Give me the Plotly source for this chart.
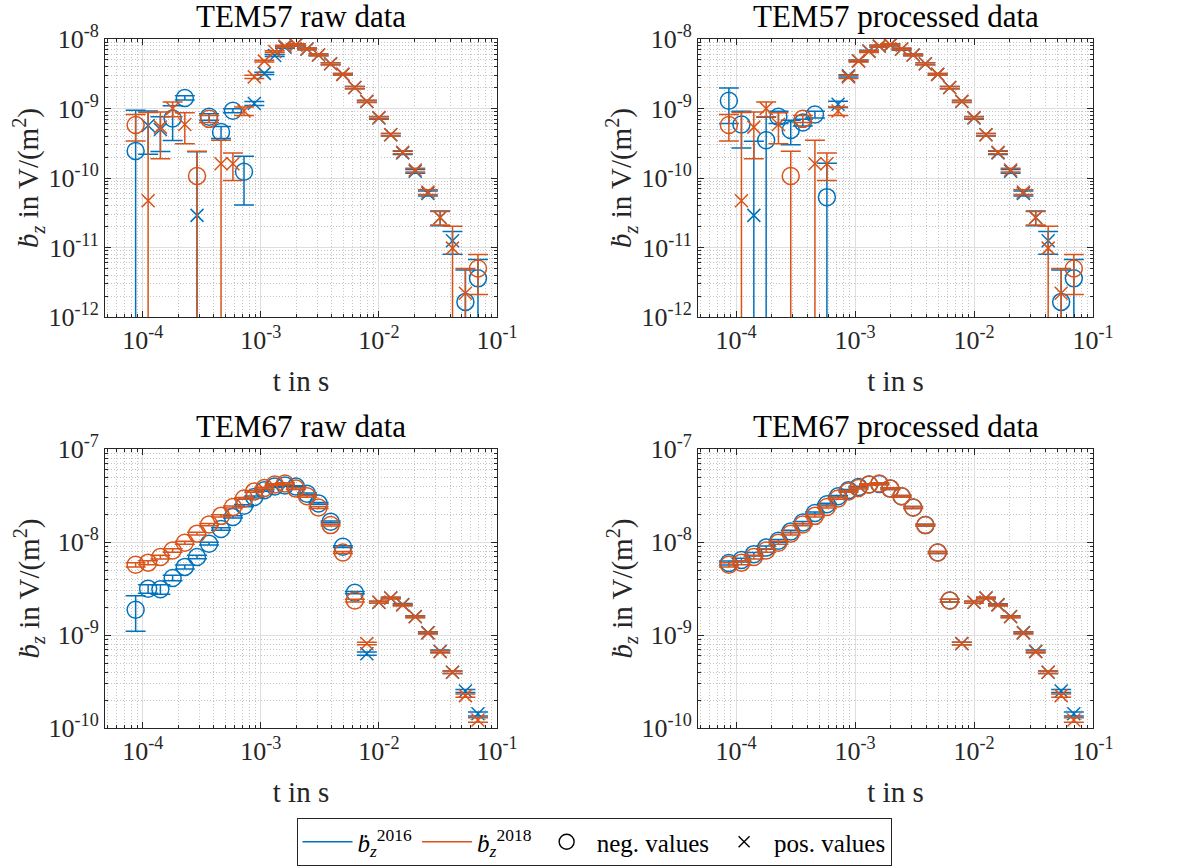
import numpy as np
import plotly.graph_objects as go

# gate centre times in s (shared by all soundings)
t_gate = [8.7e-5, 1.11e-4, 1.41e-4, 1.79e-4, 2.27e-4, 2.88e-4, 3.64e-4, 4.6e-4,
          5.8e-4, 7.2e-4, 8.8e-4, 1.07e-3, 1.31e-3, 1.6e-3, 1.98e-3, 2.46e-3,
          3.08e-3, 3.9e-3, 4.95e-3, 6.25e-3, 7.9e-3, 1.0e-2, 1.26e-2, 1.59e-2,
          2.03e-2, 2.6e-2, 3.3e-2, 4.2e-2, 5.4e-2, 6.9e-2]

# signed dB/dt in V/m^2 (negative entries are drawn as "neg. values")
tem57_2016_raw = [-2.45e-10, 5.7e-10, 5.0e-10, -7.2e-10, -1.42e-9, 2.9e-11, -7.6e-10, -4.6e-10,
                  -9.3e-10, -1.23e-10, 1.18e-9, 3.2e-9, 5.8e-9, 7.6e-9, 8.2e-9, 7.2e-9,
                  5.9e-9, 4.4e-9, 3.1e-9, 2.0e-9, 1.26e-9, 7.3e-10, 4.2e-10, 2.3e-10,
                  1.25e-10, 6.0e-11, 2.7e-11, 1.25e-11, -1.65e-12, -3.6e-12]
tem57_2016_raw_err = [7.0e-10, 3.5e-10, 2.6e-10, 3.75e-10, 1.0e-10, 2.1e-10, 8e-11, 9e-11,
                      6e-11, 8.2e-11, 8e-11, 1.2e-10, 1.8e-10, 2.2e-10, 2.4e-10, 2.2e-10,
                      1.8e-10, 1.4e-10, 1.0e-10, 7e-11, 4.5e-11, 2.8e-11, 1.8e-11, 1.2e-11,
                      8e-12, 5e-12, 6.5e-12, 4.5e-12, 3.1e-12, 3.1e-12]

tem57_2016_proc = [-1.29e-9, -5.9e-10, 2.9e-11, -3.5e-10, -7.6e-10, -4.9e-10, -6.3e-10, -8.2e-10,
                   -5.3e-11, 1.15e-9, 2.95e-9, 4.85e-9, 6.7e-9, 7.9e-9, 8.2e-9, 7.1e-9,
                   5.9e-9, 4.4e-9, 3.1e-9, 2.0e-9, 1.26e-9, 7.3e-10, 4.2e-10, 2.3e-10,
                   1.25e-10, 6.0e-11, 2.7e-11, 1.25e-11, -1.65e-12, -3.6e-12]
tem57_2016_proc_err = [6.8e-10, 3.2e-10, 3.1e-10, 4.0e-10, 1.5e-10, 1.9e-10, 7e-11, 9e-11,
                       1.1e-10, 1.2e-10, 1.0e-10, 1.2e-10, 1.8e-10, 2.2e-10, 2.4e-10, 2.2e-10,
                       1.8e-10, 1.4e-10, 1.0e-10, 7e-11, 4.5e-11, 2.8e-11, 1.8e-11, 1.2e-11,
                       8e-12, 5e-12, 6.5e-12, 4.5e-12, 3.1e-12, 3.1e-12]

tem57_2018 = [-5.8e-10, 4.7e-11, 5.4e-10, 1.0e-9, 5.9e-10, -1.07e-10, -7.1e-10, 1.6e-10,
              1.6e-10, 9.2e-10, 2.85e-9, 4.8e-9, 6.6e-9, 7.9e-9, 8.3e-9, 7.2e-9,
              5.9e-9, 4.4e-9, 3.1e-9, 2.0e-9, 1.27e-9, 7.4e-10, 4.2e-10, 2.35e-10,
              1.3e-10, 6.3e-11, 2.7e-11, 9.8e-12, 2.2e-12, -5.0e-12]
tem57_2018_err = [2.4e-10, 8.3e-10, 3.5e-10, 2.4e-10, 2.8e-10, 1.35e-10, 8e-11, 1.9e-10,
                  6.8e-11, 1.3e-10, 1.5e-10, 1.5e-10, 2.0e-10, 2.2e-10, 2.4e-10, 2.2e-10,
                  1.8e-10, 1.4e-10, 1.0e-10, 7e-11, 4.5e-11, 2.8e-11, 1.7e-11, 1.1e-11,
                  8e-12, 5e-12, 6e-12, 1.05e-11, 2.8e-12, 2.9e-12]

tem67_2016_raw = [-1.87e-9, -3.15e-9, -3.1e-9, -4.1e-9, -5.4e-9, -6.9e-9, -9.6e-9, -1.38e-8,
                  -1.86e-8, -2.45e-8, -3.05e-8, -3.6e-8, -3.95e-8, -4.05e-8, -3.95e-8, -3.3e-8,
                  -2.6e-8, -1.65e-8, -8.9e-9, -2.85e-9, 6.3e-10, 2.25e-9, 2.5e-9, 2.13e-9,
                  1.58e-9, 1.06e-9, 6.7e-10, 3.97e-10, 2.5e-10, 1.42e-10]
tem67_2016_raw_err = [7.7e-10, 3.3e-10, 3.6e-10, 2.8e-10, 2.6e-10, 3.0e-10, 3.2e-10, 4.0e-10,
                      5.0e-10, 6.0e-10, 7.0e-10, 8.0e-10, 8.5e-10, 8.5e-10, 8.0e-10, 7.0e-10,
                      5.5e-10, 3.5e-10, 2.0e-10, 8e-11, 2.5e-11, 5e-11, 5e-11, 4.5e-11,
                      3.5e-11, 2.5e-11, 1.8e-11, 1.2e-11, 9e-12, 7e-12]

tem67_2016_proc = [-5.95e-9, -6.4e-9, -7.4e-9, -8.7e-9, -1.03e-8, -1.3e-8, -1.62e-8, -2.05e-8,
                   -2.55e-8, -3.1e-8, -3.6e-8, -3.9e-8, -4.15e-8, -4.2e-8, -3.75e-8, -3.1e-8,
                   -2.35e-8, -1.52e-8, -7.7e-9, -2.35e-9, 8.1e-10, 2.25e-9, 2.5e-9, 2.12e-9,
                   1.58e-9, 1.06e-9, 6.7e-10, 3.97e-10, 2.5e-10, 1.42e-10]
tem67_2016_proc_err = [3.0e-10, 3.0e-10, 3.2e-10, 3.4e-10, 3.6e-10, 4.0e-10, 4.5e-10, 5.0e-10,
                       5.5e-10, 6.5e-10, 7.5e-10, 8.0e-10, 8.5e-10, 8.5e-10, 8.0e-10, 7.0e-10,
                       5.5e-10, 3.5e-10, 2.0e-10, 8e-11, 2.5e-11, 5e-11, 5e-11, 4.5e-11,
                       3.5e-11, 2.5e-11, 1.8e-11, 1.2e-11, 9e-12, 7e-12]

tem67_2018 = [-5.7e-9, -6.0e-9, -6.9e-9, -8.1e-9, -9.8e-9, -1.23e-8, -1.54e-8, -1.91e-8,
              -2.38e-8, -2.94e-8, -3.5e-8, -3.8e-8, -4.15e-8, -4.25e-8, -3.75e-8, -3.1e-8,
              -2.35e-8, -1.52e-8, -7.7e-9, -2.35e-9, 8.1e-10, 2.25e-9, 2.5e-9, 2.1e-9,
              1.57e-9, 1.05e-9, 6.6e-10, 3.97e-10, 2.23e-10, 1.22e-10]
tem67_2018_err = [3.0e-10, 3.0e-10, 3.2e-10, 3.4e-10, 3.6e-10, 4.0e-10, 4.5e-10, 5.0e-10,
                  5.5e-10, 6.5e-10, 7.5e-10, 8.0e-10, 8.5e-10, 8.5e-10, 8.0e-10, 7.0e-10,
                  5.5e-10, 3.5e-10, 2.0e-10, 8e-11, 2.5e-11, 5e-11, 5e-11, 4.5e-11,
                  3.5e-11, 2.5e-11, 1.8e-11, 1.2e-11, 9e-12, 7e-12]

panel_titles = ["TEM57 raw data", "TEM57 processed data", "TEM67 raw data", "TEM67 processed data"]
x_ticks = [1e-4, 1e-3, 1e-2, 1e-1]
x_ticktext = ["10<sup>-4</sup>", "10<sup>-3</sup>", "10<sup>-2</sup>", "10<sup>-1</sup>"]
y_ticks_57 = [1e-12, 1e-11, 1e-10, 1e-9, 1e-8]
y_ticktext_57 = ["10<sup>-12</sup>", "10<sup>-11</sup>", "10<sup>-10</sup>", "10<sup>-9</sup>", "10<sup>-8</sup>"]
y_ticks_67 = [1e-10, 1e-9, 1e-8, 1e-7]
y_ticktext_67 = ["10<sup>-10</sup>", "10<sup>-9</sup>", "10<sup>-8</sup>", "10<sup>-7</sup>"]

BLUE = "#0072BD"
ORANGE = "#D95319"
AXC = "#262626"
FONT = "Liberation Serif"

W, H = 1197, 868
# plot boxes in pixels: (left, right, top, bottom)
boxes = [(105, 497, 39, 317), (698, 1093, 39, 317),
         (105, 497, 449, 728), (698, 1093, 449, 728)]


def minor_vals(lo, hi):
    return [m * 10.0 ** e for e in range(lo, hi) for m in range(2, 10)]


fig = go.Figure()


def add_series(idx, vals, errs, color):
    v = np.asarray(vals, dtype=float)
    e = np.asarray(errs, dtype=float)
    t = np.asarray(t_gate, dtype=float)
    suffix = "" if idx == 1 else str(idx)
    for mask, symbol, size in ((v < 0, "circle-open", 17), (v > 0, "x-thin-open", 13)):
        fig.add_trace(go.Scatter(
            x=t[mask], y=np.abs(v[mask]), mode="markers",
            marker=dict(symbol=symbol, size=size, color=color,
                        line=dict(color=color, width=1.5)),
            error_y=dict(type="data", array=e[mask], visible=True,
                         color=color, thickness=1.5, width=10),
            xaxis="x" + suffix, yaxis="y" + suffix,
            showlegend=False, hoverinfo="x+y"))


add_series(1, tem57_2016_raw, tem57_2016_raw_err, BLUE)
add_series(1, tem57_2018, tem57_2018_err, ORANGE)
add_series(2, tem57_2016_proc, tem57_2016_proc_err, BLUE)
add_series(2, tem57_2018, tem57_2018_err, ORANGE)
add_series(3, tem67_2016_raw, tem67_2016_raw_err, BLUE)
add_series(3, tem67_2018, tem67_2018_err, ORANGE)
add_series(4, tem67_2016_proc, tem67_2016_proc_err, BLUE)
add_series(4, tem67_2018, tem67_2018_err, ORANGE)

# legend entries
fig.add_trace(go.Scatter(x=[None], y=[None], mode="lines", line=dict(color=BLUE, width=1.5),
                         name="<i>ḃ</i><sub><i>z</i></sub><sup>2016</sup>"))
fig.add_trace(go.Scatter(x=[None], y=[None], mode="lines", line=dict(color=ORANGE, width=1.5),
                         name="<i>ḃ</i><sub><i>z</i></sub><sup>2018</sup>"))
fig.add_trace(go.Scatter(x=[None], y=[None], mode="markers",
                         marker=dict(symbol="circle-open", size=15, color="black",
                                     line=dict(color="black", width=1.4)),
                         name="neg. values"))
fig.add_trace(go.Scatter(x=[None], y=[None], mode="markers",
                         marker=dict(symbol="x-thin-open", size=11, color="black",
                                     line=dict(color="black", width=1.4)),
                         name="pos. values"))

layout = dict(
    width=W, height=H,
    margin=dict(l=0, r=0, t=0, b=0, autoexpand=False),
    paper_bgcolor="white", plot_bgcolor="white",
    font=dict(family=FONT, color=AXC),
    legend=dict(orientation="h", x=594 / W, xanchor="center", y=1 - 818 / H, yanchor="top",
                bordercolor=AXC, borderwidth=1, bgcolor="white",
                font=dict(family=FONT, size=25, color="black"),
                itemwidth=50, tracegroupgap=0),
    annotations=[],
)

for i, (l, r, tp, bt) in enumerate(boxes):
    n = i + 1
    suffix = "" if n == 1 else str(n)
    xd = [l / W, r / W]
    yd = [1 - bt / H, 1 - tp / H]
    common = dict(type="log", ticks="inside", ticklen=6, tickwidth=1, tickcolor=AXC,
                  showline=True, linecolor=AXC, linewidth=1, mirror="ticks",
                  showgrid=True, gridcolor="#dedede", gridwidth=1, zeroline=False,
                  automargin=False,
                  tickfont=dict(family=FONT, size=26, color=AXC), tickmode="array")
    if n <= 2:
        yr, yt, ytt, ymin = [-12, -8], y_ticks_57, y_ticktext_57, minor_vals(-12, -8)
    else:
        yr, yt, ytt, ymin = [-10, -7], y_ticks_67, y_ticktext_67, minor_vals(-10, -7)
    minor = dict(tickmode="array", ticks="inside", ticklen=3, tickcolor=AXC,
                 showgrid=True, gridcolor="#c4c4c4", griddash="1px,2px", gridwidth=1)
    layout["xaxis" + suffix] = dict(
        common, domain=xd, anchor="y" + suffix, range=[-4.32, -1],
        tickvals=x_ticks, ticktext=x_ticktext,
        minor=dict(minor, tickvals=minor_vals(-5, -1)),
        title=dict(text="t in s", font=dict(family=FONT, size=29, color=AXC), standoff=16))
    layout["yaxis" + suffix] = dict(
        common, domain=yd, anchor="x" + suffix, range=yr,
        tickvals=yt, ticktext=ytt,
        minor=dict(minor, tickvals=ymin),
        title=dict(text="<i>ḃ</i><sub><i>z</i></sub> in V/(m<sup>2</sup>)",
                   font=dict(family=FONT, size=29, color=AXC), standoff=0))
    layout["annotations"].append(dict(
        text=panel_titles[i], xref="paper", yref="paper",
        x=(l + r) / 2 / W, y=1 - (tp - 23) / H, xanchor="center", yanchor="middle",
        showarrow=False, font=dict(family=FONT, size=31, color="black")))

fig.update_layout(**layout)
fig.write_html("out.html")
